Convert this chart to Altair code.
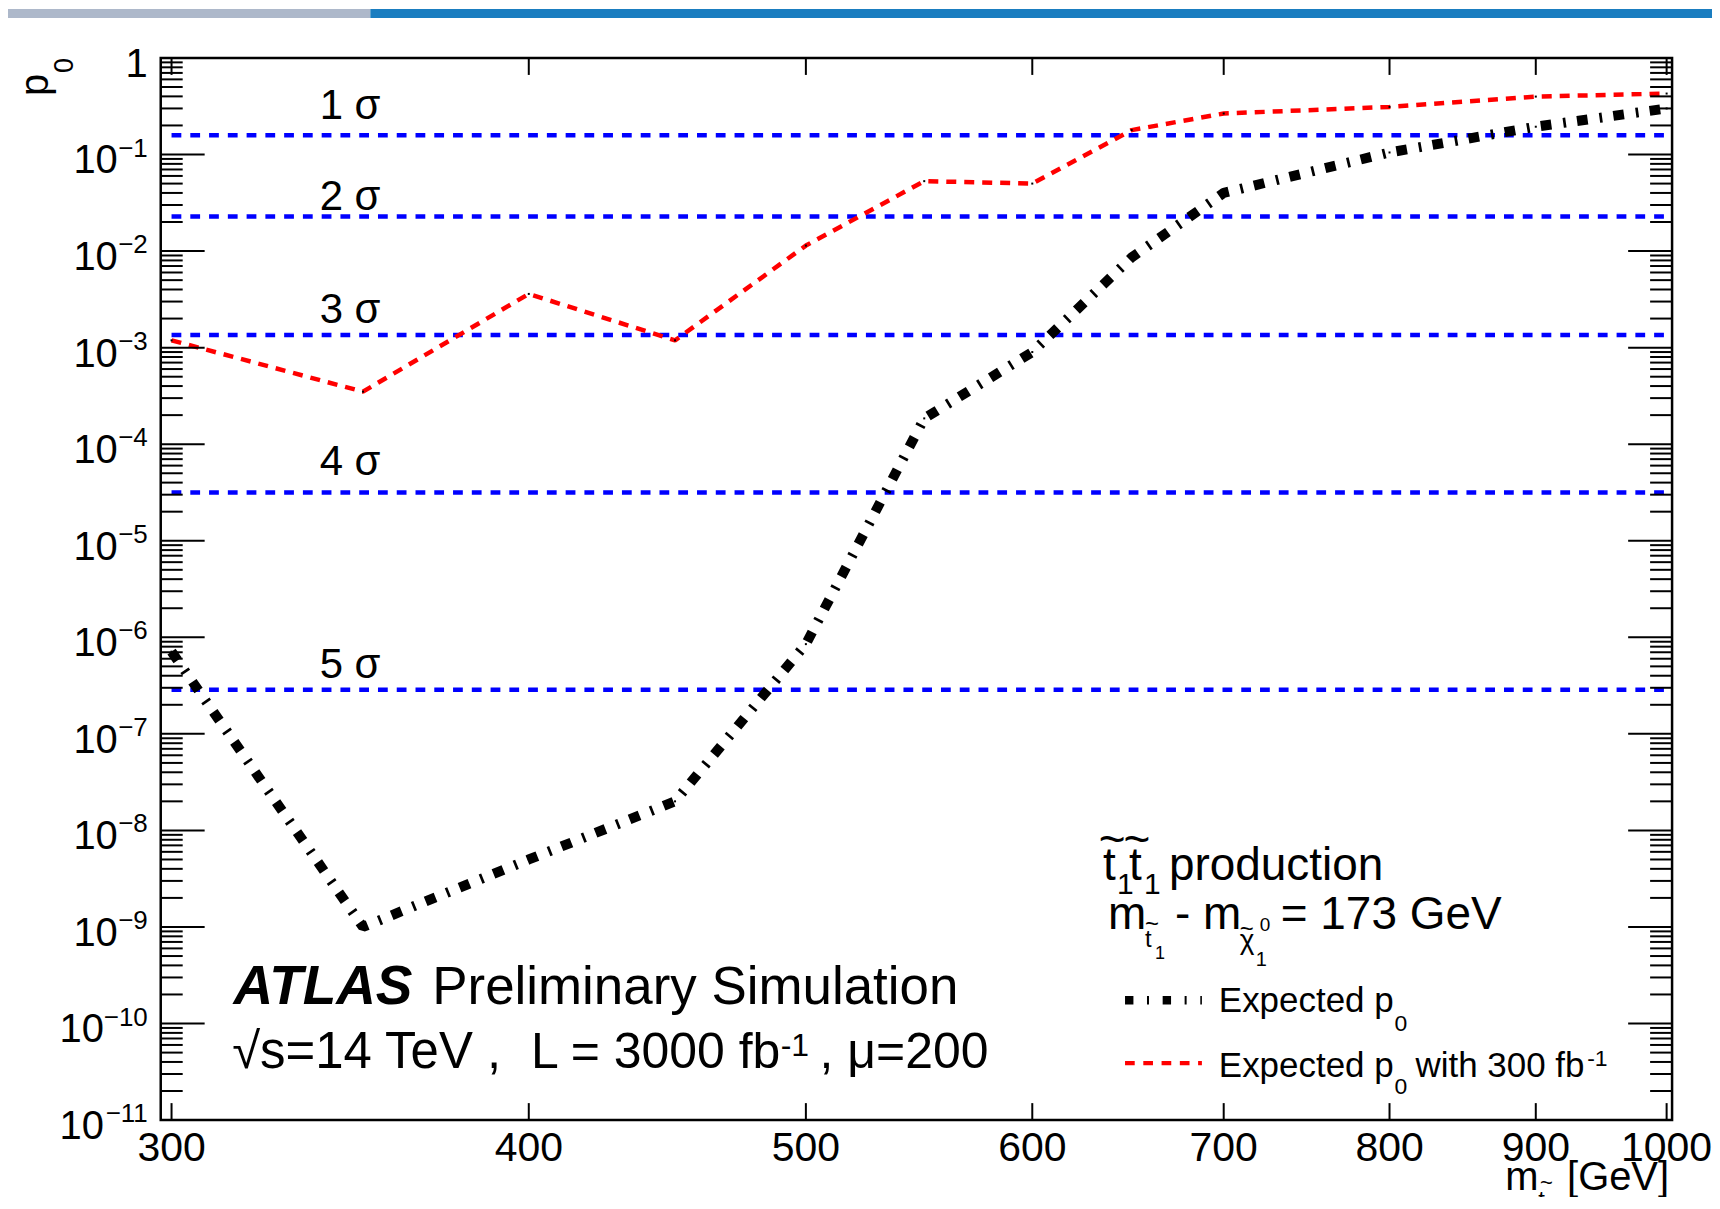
import altair as alt
import pandas as pd

# ---------------- data ----------------
mass = [300, 350, 400, 450, 500, 550, 600, 650, 700, 800, 900, 1000]
p0_3000 = [7.1e-7, 1.0e-9, 5.0e-9, 2.0e-8, 8.5e-7, 1.85e-4, 9.0e-4, 8.6e-3, 0.040, 0.105, 0.194, 0.30]
p0_300 = [1.19e-3, 3.5e-4, 3.6e-3, 1.19e-3, 0.0114, 0.053, 0.050, 0.179, 0.266, 0.311, 0.398, 0.428]

sigma_names = ["1 σ", "2 σ", "3 σ", "4 σ", "5 σ"]
sigma_p = [0.1587, 0.02275, 0.00135, 3.167e-5, 2.867e-7]
sigma_label_p = [0.234, 0.0269, 0.00182, 4.8e-5, 3.8e-7]
sigma_label_x = 338

x_ticks = [300, 400, 500, 600, 700, 800, 900, 1000]
x_tick_labels = ["300", "400", "500", "600", "700", "800", "900", "1000"]
y_exponents = list(range(-11, 1))
y_tick_base = ["10"] * 11 + ["1"]
y_tick_exp = ["−11", "−10", "−9", "−8", "−7", "−6", "−5", "−4", "−3", "−2", "−1", ""]
y_minor_mult = [2, 3, 4, 5, 6, 7, 8, 9]

x_domain = [297.4, 1004.4]
y_domain = [1e-11, 1]

FONT = "Liberation Sans"
W, H = 1514, 1064

xs = alt.Scale(type="log", domain=x_domain, nice=False)
ys = alt.Scale(type="log", domain=y_domain, nice=False)

one = pd.DataFrame({"a": [0]})


def txt(s, x, y, size, align="left", weight="normal", style="normal", angle=0, color="black"):
    return alt.Chart(pd.DataFrame({"t": [s]})).mark_text(
        align=align, baseline="alphabetic", font=FONT, fontSize=size,
        fontWeight=weight, fontStyle=style, angle=angle, color=color
    ).encode(x=alt.value(x), y=alt.value(y), text="t:N")


def hrule(x1, x2, y, color, width, dash):
    return alt.Chart(one).mark_rule(color=color, strokeWidth=width, strokeDash=dash).encode(
        x=alt.value(x1), x2=alt.value(x2), y=alt.value(y))


def box(x1, x2, y1, y2, color):
    return alt.Chart(one).mark_rect(color=color).encode(
        x=alt.value(x1), x2=alt.value(x2), y=alt.value(y1), y2=alt.value(y2))


lines_df = pd.DataFrame({"m": mass, "p3000": p0_3000, "p300": p0_300})
sigma_df = pd.DataFrame({"name": sigma_names, "p": sigma_p, "lp": sigma_label_p,
                         "x0": [mass[0]] * 5, "x1": [mass[-1]] * 5,
                         "lx": [sigma_label_x] * 5})
xt_df = pd.DataFrame({"v": x_ticks, "lab": x_tick_labels})
yt_df = pd.DataFrame({"e": y_exponents, "base": y_tick_base, "exp": y_tick_exp})
yt_df["v"] = [10.0 ** e for e in y_exponents]
ymin_df = pd.DataFrame({"v": [m * 10.0 ** e for e in range(-11, 0) for m in y_minor_mult]})

Xm = alt.X("m:Q", scale=xs, axis=None)

# banner
banner = [box(-153, 210, -49, -40, "#adb8ca"), box(210, 1555, -49, -40, "#1a7dc0")]

# sigma lines + labels
sig_lines = alt.Chart(sigma_df).mark_rule(color="#0000ff", strokeWidth=4.5, strokeDash=[9.8, 9]).encode(
    x=alt.X("x0:Q", scale=xs, axis=None), x2="x1:Q", y=alt.Y("p:Q", scale=ys, axis=None))
sig_labels = alt.Chart(sigma_df).mark_text(align="left", baseline="alphabetic", font=FONT, fontSize=42,
                                           color="black").encode(
    x=alt.X("lx:Q", scale=xs, axis=None), y=alt.Y("lp:Q", scale=ys, axis=None), text="name:N")

red = alt.Chart(lines_df).mark_line(color="#ff0000", strokeWidth=4.5, strokeDash=[10, 8],
                                    strokeJoin="bevel").encode(
    x=Xm, y=alt.Y("p300:Q", scale=ys, axis=None))
black = alt.Chart(lines_df).mark_line(color="black", strokeWidth=10, strokeDash=[10.7, 12, 2.7, 11.3],
                                      strokeJoin="bevel").encode(
    x=Xm, y=alt.Y("p3000:Q", scale=ys, axis=None))
dots_r = alt.Chart(lines_df).mark_square(size=4, color="black", opacity=1).encode(
    x=Xm, y=alt.Y("p300:Q", scale=ys, axis=None))
dots_b = alt.Chart(lines_df).mark_square(size=4, color="black", opacity=1).encode(
    x=Xm, y=alt.Y("p3000:Q", scale=ys, axis=None))

# ticks
Yv = alt.Y("v:Q", scale=ys, axis=None)
Xv = alt.X("v:Q", scale=xs, axis=None)
tick_layers = [
    alt.Chart(yt_df).mark_rule(color="black", strokeWidth=2).encode(y=Yv, x=alt.value(0), x2=alt.value(44)),
    alt.Chart(yt_df).mark_rule(color="black", strokeWidth=2).encode(y=Yv, x=alt.value(W - 44), x2=alt.value(W)),
    alt.Chart(ymin_df).mark_rule(color="black", strokeWidth=2).encode(y=Yv, x=alt.value(0), x2=alt.value(22)),
    alt.Chart(ymin_df).mark_rule(color="black", strokeWidth=2).encode(y=Yv, x=alt.value(W - 22), x2=alt.value(W)),
    alt.Chart(xt_df).mark_rule(color="black", strokeWidth=2).encode(x=Xv, y=alt.value(H), y2=alt.value(H - 17)),
    alt.Chart(xt_df).mark_rule(color="black", strokeWidth=2).encode(x=Xv, y=alt.value(0), y2=alt.value(17)),
]

# tick labels
xlab = alt.Chart(xt_df).mark_text(align="center", baseline="alphabetic", font=FONT, fontSize=41,
                                  color="black").encode(x=Xv, y=alt.value(H + 41), text="lab:N")
ybase = alt.Chart(yt_df).transform_calculate(
    bx="datum.exp == '' ? -13 : (length(datum.exp) > 2 ? -57 : -43)"
).mark_text(align="right", baseline="alphabetic", font=FONT, fontSize=40, dy=19, color="black").encode(
    x=alt.X("bx:Q", scale=None), y=Yv, text="base:N")
yexp = alt.Chart(yt_df).mark_text(align="right", baseline="alphabetic", font=FONT, fontSize=26, dy=2,
                                  color="black").encode(x=alt.value(-13), y=Yv, text="exp:N")

# axis titles
titles = [
    txt("p", -113, 38, 40, angle=270),
    txt("0", -88, 15, 27, angle=270),
    txt("m", 1347, 1134, 40),
    txt("~", 1388, 1134, 22, align="center"),
    txt("t", 1380, 1152, 24),
    txt("[GeV]", 1511, 1134, 40, align="right"),
]

# ATLAS label
atlas = [
    txt("ATLAS", 73, 948, 55, weight="bold", style="italic"),
    txt("Preliminary Simulation", 272, 948, 53),
    txt("√s=14 TeV ,", 341, 1012, 51, align="right"),
    txt("L = 3000 fb", 371, 1012, 50),
    txt("-1", 621, 1000, 32),
    txt(", μ=200", 660, 1012, 50),
]

# process annotation
proc = [
    txt("t", 944, 823, 46),
    txt("1", 958, 838, 30),
    txt("t", 970, 823, 46),
    txt("1", 985, 838, 30),
    txt("~", 953, 798, 46, align="center"),
    txt("~", 978, 798, 46, align="center"),
    txt("production", 1010, 823, 46),
    txt("m", 949, 873, 46),
    txt("~", 993, 876, 24, align="center"),
    txt("t", 986, 891, 24),
    txt("1", 996, 903, 18),
    txt("- m", 1016, 873, 46),
    txt("~", 1088, 881, 24, align="center"),
    txt("χ", 1081, 893, 28),
    txt("0", 1101, 875, 19),
    txt("1", 1097, 910, 20),
    txt("= 173 GeV", 1122, 873, 46),
]

# legend
legend = [
    hrule(966, 1043, 944, "black", 8.5, [8.4, 13.6, 2, 13.7]),
    hrule(966, 1043, 1007, "#ff0000", 4.3, [9.7, 8.6]),
    txt("Expected p", 1060, 956, 35),
    txt("0", 1236, 975, 23),
    txt("Expected p", 1060, 1021, 35),
    txt("0", 1236, 1038, 23),
    txt("with 300 fb", 1257, 1021, 35),
    txt("-1", 1429, 1010, 23),
]

frame = alt.Chart(one).mark_rect(filled=False, stroke="black", strokeWidth=2.5).encode(
    x=alt.value(0), x2=alt.value(W), y=alt.value(0), y2=alt.value(H))

chart = alt.layer(
    *banner, sig_lines, sig_labels, red, black, dots_r, dots_b,
    *tick_layers, xlab, ybase, yexp, *titles, *atlas, *proc, *legend, frame
).properties(
    width=W, height=H,
    padding={"left": 153, "top": 49, "right": 40, "bottom": 76},
    autosize=alt.AutoSizeParams(type="none"),
    background="white",
).configure_view(strokeWidth=0)

chart.save("out.html", embed_options={"renderer": "svg", "actions": False})
